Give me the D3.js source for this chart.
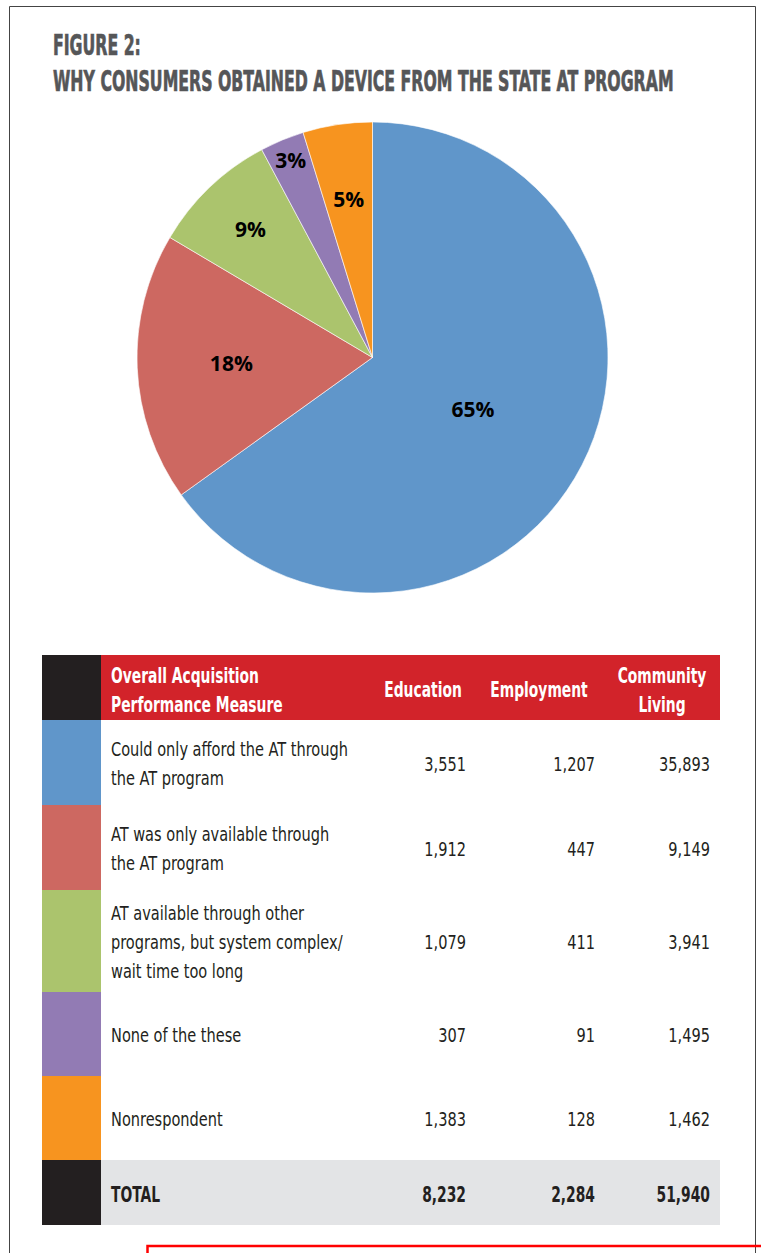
<!DOCTYPE html>
<html>
<head>
<meta charset="utf-8">
<script src="https://cdn.jsdelivr.net/npm/d3@7"></script>
<style>
  html, body { margin: 0; padding: 0; background: #fff; }
  svg { display: block; }
</style>
</head>
<body>
<script>
// ---------------- DATA ----------------
const titleLines = ["FIGURE 2:", "WHY CONSUMERS OBTAINED A DEVICE FROM THE STATE AT PROGRAM"];
const headerLabel = ["Overall Acquisition", "Performance Measure"];
const columns = ["Education", "Employment", "Community Living"];
const columnHeaderLines = [["Education"], ["Employment"], ["Community", "Living"]];
const categories = [
  "Could only afford the AT through the AT program",
  "AT was only available through the AT program",
  "AT available through other programs, but system complex/ wait time too long",
  "None of the these",
  "Nonrespondent"
];
const categoryLines = [
  ["Could only afford the AT through", "the AT program"],
  ["AT was only available through", "the AT program"],
  ["AT available through other", "programs, but system complex/", "wait time too long"],
  ["None of the these"],
  ["Nonrespondent"]
];
const education  = [3551, 1912, 1079, 307, 1383];
const employment = [1207, 447, 411, 91, 128];
const community  = [35893, 9149, 3941, 1495, 1462];
const totals     = [8232, 2284, 51940];
const totalLabel = "TOTAL";

// ---------------- STYLE / LAYOUT ----------------
const colors = ["#6096CA", "#CD6861", "#ABC46D", "#927BB4", "#F7941F"];
const W = 761, H = 1253;
const condensed = "'Liberation Sans Narrow', 'DejaVu Sans Condensed', 'Roboto', sans-serif";

const svg = d3.select("body").append("svg")
  .attr("width", W).attr("height", H)
  .attr("viewBox", `0 0 ${W} ${H}`);

// frame
svg.append("path")
  .attr("d", `M9.5,${H + 5} V6.5 H755.5 V${H + 5}`)
  .attr("fill", "none").attr("stroke", "#444").attr("stroke-width", 1);

// helpers
function measure(str, size, weight, family) {
  const t = svg.append("text").attr("font-family", family).attr("font-size", size)
    .attr("font-weight", weight).text(str);
  const w = t.node().getComputedTextLength();
  t.remove();
  return w;
}
function txt(g, str, x, y, o) {
  const t = g.append("text")
    .attr("transform", `translate(${x},${y}) scale(${o.sx || 1},1)`)
    .attr("font-family", o.family || condensed)
    .attr("font-size", o.size)
    .attr("font-weight", o.weight || "normal")
    .attr("fill", o.fill || "#231F20")
    .attr("text-anchor", o.anchor || "start")
    .text(str);
  if (o.stroke) t.attr("stroke", o.fill || "#231F20").attr("stroke-width", o.stroke);
  return t;
}

// ---------------- TITLE ----------------
const titleSize = 29;
const titleSx = 621 / measure(titleLines[1], titleSize, "bold", condensed);
const gT = svg.append("g");
txt(gT, titleLines[0], 53, 54.5, {size: titleSize, weight: "bold", sx: titleSx, fill: "#555658", stroke: 0.7});
txt(gT, titleLines[1], 53, 91, {size: titleSize, weight: "bold", sx: titleSx, fill: "#555658", stroke: 0.7});

// ---------------- PIE ----------------
const rowTotals = categories.map((c, i) => education[i] + employment[i] + community[i]);
const grand = d3.sum(rowTotals);
const pieData = d3.pie().sort(null).value(d => d)(rowTotals);
const R = 235.5;
const cx = 372.5, cy = 357.5;
const arc = d3.arc().innerRadius(0).outerRadius(R);
const labelFrac = [0.48, 0.60, 0.75, 0.905, 0.68];
const gP = svg.append("g").attr("transform", `translate(${cx},${cy})`);
gP.selectAll("path.slice").data(pieData).join("path")
  .attr("class", "slice")
  .attr("d", arc)
  .attr("fill", (d, i) => colors[i])
  .attr("stroke", "#fff").attr("stroke-width", 0.6);
gP.selectAll("text.pl").data(pieData).join("text")
  .attr("class", "pl")
  .attr("transform", (d, i) => {
    const c = d3.arc().innerRadius(R * labelFrac[i]).outerRadius(R * labelFrac[i]).centroid(d);
    return `translate(${c[0]},${c[1]})`;
  })
  .attr("dy", "0.36em")
  .attr("text-anchor", "middle")
  .attr("font-family", "'Open Sans', 'Noto Sans', sans-serif")
  .attr("font-weight", 700)
  .attr("font-size", 21)
  .attr("fill", "#000")
  .text(d => Math.round(d.value / grand * 100) + "%");

// ---------------- TABLE ----------------
const tX0 = 42, tX1 = 101, tX2 = 720;
const headerTop = 655, headerH = 65;
const rowH = [85, 85, 102, 84, 84];
const totalH = 65;
const rowTops = [];
rowH.reduce((acc, h) => { rowTops.push(acc); return acc + h; }, headerTop + headerH);
const totalTop = rowTops[rowTops.length - 1] + rowH[rowH.length - 1];

const colCenter = d3.scaleOrdinal().domain(columns).range([423, 539, 662]);
const colRight = d3.scaleOrdinal().domain(columns).range([466, 595, 710]);

const bodySize = 20, headSize = 21;
const bodySx = 237 / measure(categoryLines[0][0], bodySize, "normal", condensed);
const headSx = 148 / measure(headerLabel[0], headSize, "bold", condensed);

const gTab = svg.append("g");
// header
gTab.append("rect").attr("x", tX0).attr("y", headerTop).attr("width", tX1 - tX0).attr("height", headerH).attr("fill", "#231F20");
gTab.append("rect").attr("x", tX1).attr("y", headerTop).attr("width", tX2 - tX1).attr("height", headerH).attr("fill", "#D2232A");
const hc = headerTop + headerH / 2;
headerLabel.forEach((l, k) => txt(gTab, l, 111, hc + 9.5 + (k - (headerLabel.length - 1) / 2) * 29, {size: headSize, weight: "bold", sx: headSx, fill: "#fff"}));
columns.forEach((c, j) => {
  const lines = columnHeaderLines[j];
  lines.forEach((l, k) => txt(gTab, l, colCenter(c), hc + 9.5 + (k - (lines.length - 1) / 2) * 29,
    {size: headSize, weight: "bold", sx: headSx, fill: "#fff", anchor: "middle"}));
});

// body rows
const fmt = d3.format(",");
const series = [education, employment, community];
categories.forEach((cat, i) => {
  const top = rowTops[i], h = rowH[i], c = top + h / 2;
  gTab.append("rect").attr("x", tX0).attr("y", top).attr("width", tX1 - tX0).attr("height", h).attr("fill", colors[i]);
  const lines = categoryLines[i];
  lines.forEach((l, k) => txt(gTab, l, 111, c + 8 + (k - (lines.length - 1) / 2) * 29, {size: bodySize, sx: bodySx}));
  columns.forEach((col, j) => txt(gTab, fmt(series[j][i]), colRight(col), c + 8, {size: bodySize, sx: bodySx, anchor: "end"}));
});

// total row
gTab.append("rect").attr("x", tX0).attr("y", totalTop).attr("width", tX1 - tX0).attr("height", totalH).attr("fill", "#231F20");
gTab.append("rect").attr("x", tX1).attr("y", totalTop).attr("width", tX2 - tX1).attr("height", totalH).attr("fill", "#E3E4E6");
const tc = totalTop + totalH / 2;
txt(gTab, totalLabel, 111, tc + 9, {size: headSize, weight: "bold", sx: headSx});
columns.forEach((col, j) => txt(gTab, fmt(totals[j]), colRight(col), tc + 9, {size: headSize, weight: "bold", sx: headSx, anchor: "end"}));

// red box at bottom edge
svg.append("rect").attr("x", 147.5).attr("y", 1246).attr("width", W - 147 + 5).attr("height", 40)
  .attr("fill", "none").attr("stroke", "#FF0000").attr("stroke-width", 2.5);
</script>
</body>
</html>
